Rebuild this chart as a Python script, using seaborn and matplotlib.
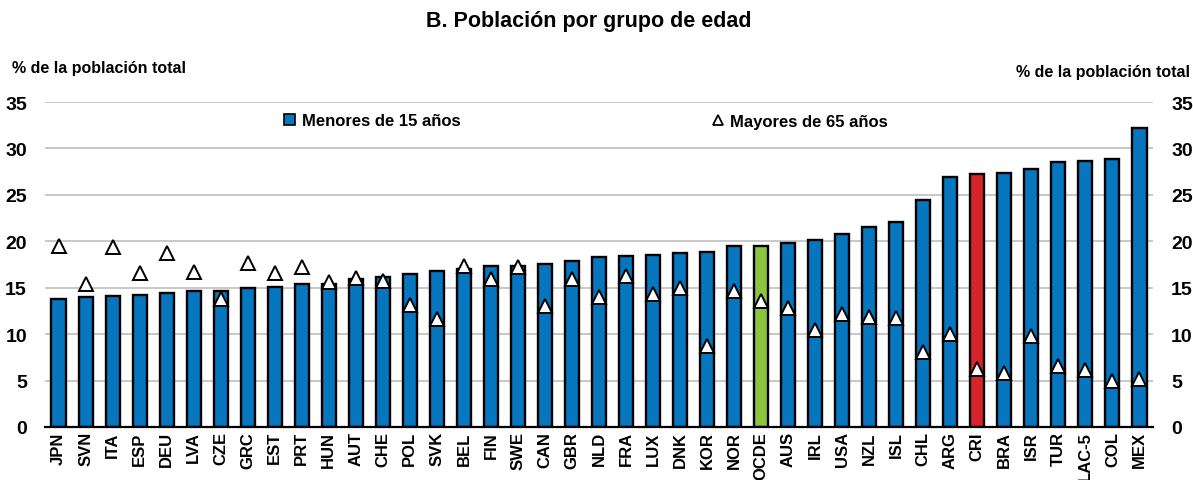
import matplotlib
matplotlib.use("Agg")
import matplotlib.pyplot as plt
import seaborn as sns
import pandas as pd
from matplotlib.lines import Line2D
from matplotlib.patches import Patch
from matplotlib.ticker import FixedLocator

countries = ["JPN", "SVN", "ITA", "ESP", "DEU", "LVA", "CZE", "GRC", "EST", "PRT",
             "HUN", "AUT", "CHE", "POL", "SVK", "BEL", "FIN", "SWE", "CAN", "GBR",
             "NLD", "FRA", "LUX", "DNK", "KOR", "NOR", "OCDE", "AUS", "IRL", "USA",
             "NZL", "ISL", "CHL", "ARG", "CRI", "BRA", "ISR", "TUR", "LAC-5", "COL", "MEX"]
under15 = [13.8, 14.0, 14.1, 14.2, 14.4, 14.6, 14.7, 15.0, 15.1, 15.4,
           15.4, 15.9, 16.2, 16.5, 16.8, 17.0, 17.3, 17.3, 17.6, 17.9,
           18.3, 18.4, 18.5, 18.7, 18.8, 19.5, 19.5, 19.8, 20.1, 20.8,
           21.5, 22.1, 24.5, 26.9, 27.3, 27.4, 27.8, 28.5, 28.7, 28.9, 32.2]
over65 = [19.5, 15.4, 19.4, 16.6, 18.7, 16.7, 13.8, 17.7, 16.6, 17.2,
          15.6, 16.1, 15.7, 13.1, 11.6, 17.3, 15.9, 17.2, 13.0, 15.9,
          14.0, 16.3, 14.3, 15.0, 8.7, 14.7, 13.6, 12.8, 10.5, 12.2,
          11.9, 11.7, 8.1, 10.0, 6.3, 5.8, 9.8, 6.6, 6.1, 5.0, 5.2]

BLUE = "#0676BF"
GREEN = "#8CC43F"
RED = "#D9232A"
colors = [GREEN if c == "OCDE" else RED if c == "CRI" else BLUE for c in countries]

df = pd.DataFrame({"country": countries, "under15": under15, "over65": over65})

sns.set_style("white")
FONT = ["Liberation Sans Narrow", "Liberation Sans", "DejaVu Sans"]
plt.rcParams["font.family"] = FONT
plt.rcParams["font.weight"] = "bold"
for k in ["text.color", "axes.labelcolor", "xtick.color", "ytick.color"]:
    plt.rcParams[k] = "black"

fig = plt.figure(figsize=(11.93, 4.81), dpi=100)
ax = fig.add_axes([45 / 1193, 53 / 481, 1108 / 1193, 325 / 481])

sns.barplot(data=df, x="country", y="under15", hue="country", palette=colors,
            legend=False, width=0.52, edgecolor="black", linewidth=1.7,
            saturation=1, ax=ax, zorder=3)
ax.plot(range(len(countries)), df["over65"], linestyle="none", marker="^",
        markersize=9.5, markerfacecolor="white", markeredgecolor="black",
        markeredgewidth=1.4, zorder=4)

ax.set_xlim(-0.5, len(countries) - 0.5)
ax.set_ylim(0, 35)
ax.set_yticks(range(0, 36, 5))
ax.yaxis.grid(True, color="#C4C4C4", linewidth=1.3, zorder=0)
ax.xaxis.grid(False)
ax.set_axisbelow(True)
for s in ["left", "right", "top"]:
    ax.spines[s].set_visible(False)
ax.spines["bottom"].set_color("black")
ax.spines["bottom"].set_linewidth(1.6)
ax.spines["bottom"].set_zorder(5)

ax.set_xlabel("")
ax.set_ylabel("")
ax.set_xticks(range(len(countries)))
ax.set_xticklabels(countries, rotation=90, fontsize=12, fontweight="bold")
ax.xaxis.set_minor_locator(FixedLocator([i - 0.5 for i in range(len(countries) + 1)]))
ax.tick_params(axis="x", which="major", length=0, pad=3)
ax.tick_params(axis="x", which="minor", direction="in", length=4, width=1.4, color="black")
ax.tick_params(axis="y", length=0, pad=13, labelsize=14)
for lbl in ax.get_yticklabels():
    lbl.set_fontweight("bold")

ax2 = ax.twinx()
ax2.set_ylim(0, 35)
ax2.set_yticks(range(0, 36, 5))
ax2.tick_params(axis="y", length=0, pad=13, labelsize=14)
for lbl in ax2.get_yticklabels():
    lbl.set_fontweight("bold")
for s in ["left", "right", "top", "bottom"]:
    ax2.spines[s].set_visible(False)
ax2.grid(False)

fig.text(589 / 1193, 1 - 22 / 481, "B. Población por grupo de edad", ha="center", va="center",
         fontsize=15.5, fontweight="bold")
fig.text(12 / 1193, 1 - 68 / 481, "% de la población total", ha="left", va="center",
         fontsize=11.5, fontweight="bold")
fig.text(1190 / 1193, 1 - 72 / 481, "% de la población total", ha="right", va="center",
         fontsize=11.5, fontweight="bold")

h1 = [Patch(facecolor=BLUE, edgecolor="black", linewidth=1.2)]
h2 = [Line2D([], [], linestyle="none", marker="^", markersize=7.5, markerfacecolor="white",
             markeredgecolor="black", markeredgewidth=1.3)]
leg1 = ax.legend(h1, ["Menores de 15 años"], loc="center left",
                 bbox_to_anchor=(224 / 1108, 1 - (122 - 103) / 325), frameon=False,
                 handlelength=0.65, handleheight=0.65, handletextpad=0.45,
                 prop={"size": 12, "weight": "bold"})
ax.add_artist(leg1)
ax.legend(h2, ["Mayores de 65 años"], loc="center left",
          bbox_to_anchor=(652 / 1108, 1 - (122 - 103) / 325), frameon=False,
          handlelength=0.7, handletextpad=0.4, prop={"size": 12, "weight": "bold"})

fig.savefig("out.png", dpi=100)
